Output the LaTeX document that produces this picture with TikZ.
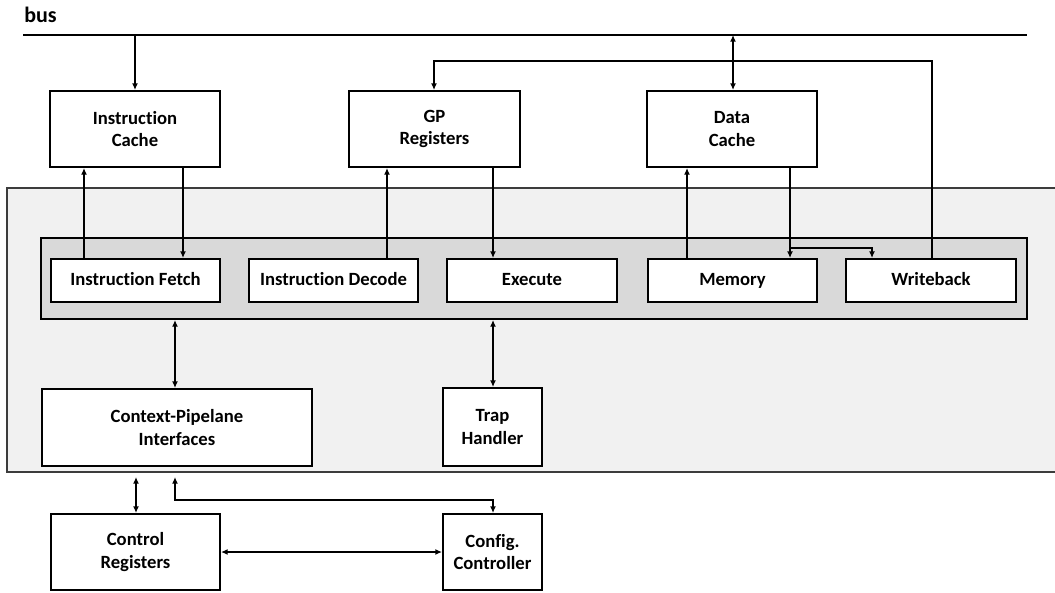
\documentclass[tikz,border=0pt]{standalone}
\usepackage{fontspec}
\setmainfont{Carlito}[Ligatures=NoCommon]
\usetikzlibrary{arrows.meta}
\begin{document}
\begin{tikzpicture}[x=0.75pt,y=-0.75pt,
  boxbase/.style={draw=black,line width=1.5pt,fill=white,inner sep=0pt,anchor=center,
    font=\bfseries\fontsize{14}{17}\selectfont},
  box/.style={boxbase,align=center},
  stage/.style={boxbase,text height=9.5pt,text depth=2.5pt,
    minimum height=32.25pt},
  arr/.style={line width=1.1pt,-{Latex[length=5pt,width=4.5pt]}},
  barr/.style={line width=1.1pt,{Latex[length=5pt,width=4.5pt]}-{Latex[length=5pt,width=4.5pt]}}]
\useasboundingbox (0,0) rectangle (1055,592);

% core area
\fill[fill={rgb,255:red,241;green,241;blue,241}] (7,188) rectangle (1055,472);
\draw[line width=1.2pt,draw={rgb,255:red,60;green,60;blue,60}] (1055,188) -- (7,188) -- (7,472) -- (1055,472);

% pipeline band
\node[draw=black,line width=1.5pt,fill={rgb,255:red,217;green,217;blue,217},inner sep=0pt,
  minimum width=739.5pt,minimum height=60.75pt] (pipe) at (534,278.5) {};

% system bus
\coordinate (busL) at (23,35);
\coordinate (busR) at (1027,35);
\draw[line width=2.2pt] (busL) -- (busR);
\node[anchor=base west,inner sep=0pt,font=\bfseries\fontsize{16.5}{19}\selectfont] (buslbl) at (24,23) {bus};

% memories and register file
\node[box,minimum width=127.5pt,minimum height=57pt] (ic) at (135,129) {Instruction\\Cache};
\node[box,minimum width=128.25pt,minimum height=57pt] (gp) at (434.5,129) {GP\\Registers};
\node[box,minimum width=127.5pt,minimum height=57pt] (dc) at (732,129) {Data\\Cache};

% pipeline stages
\node[stage,minimum width=126.75pt] (if) at (135.5,280.5) {Instruction Fetch};
\node[stage,minimum width=126.75pt] (id) at (333.5,280.5) {Instruction Decode};
\node[stage,minimum width=127.5pt] (ex) at (532,280.5) {Execute};
\node[stage,minimum width=126.75pt] (me) at (732.5,280.5) {Memory};
\node[stage,minimum width=127.5pt] (wb) at (931,280.5) {Writeback};

% lower blocks
\node[box,minimum width=202.5pt,minimum height=57.75pt] (cp) at (177,427.5) {Context-Pipelane\\Interfaces};
\node[box,minimum width=74.25pt,minimum height=58.5pt] (th) at (492.5,427) {Trap\\Handler};
\node[box,minimum width=126.75pt,minimum height=57pt] (cr) at (135.5,552) {Control\\Registers};
\node[box,minimum width=74.25pt,minimum height=57pt] (cc) at (492.5,552) {Config.\\Controller};

% bus connections
\draw[arr] (ic.north |- busL) -- (ic.north);
\draw[barr] (733,35 |- busL) -- (733,0 |- dc.north);

% caches and registers to stages
\draw[arr] (84,0 |- if.north) -- (84,0 |- ic.south);
\draw[arr] (183,0 |- ic.south) -- (183,0 |- if.north);
\draw[arr] (387,0 |- id.north) -- (387,0 |- gp.south);
\draw[arr] (493,0 |- gp.south) -- (493,0 |- ex.north);
\draw[arr] (687,0 |- me.north) -- (687,0 |- dc.south);
\draw[arr] (790,0 |- dc.south) -- (790,0 |- me.north);
\coordinate (split) at (790,248);
\draw[arr] (split) -| (872,0 |- wb.north);
\draw[arr] (932,0 |- wb.north) -- (932,61) -| (434,0 |- gp.north);

% pipeline to lower blocks
\draw[barr] (175,0 |- pipe.south) -- (175,0 |- cp.north);
\draw[barr] (493,0 |- pipe.south) -- (493,0 |- th.north);

% control path
\coordinate (crtop) at (136,477);
\draw[barr] (crtop) -- (136,0 |- cr.north);
\coordinate (cctop) at (175,477);
\draw[barr] (cctop) -- (175,500) -| (493,0 |- cc.north);
\draw[barr] (cr.east |- 0,552) -- (cc.west |- 0,552);
\end{tikzpicture}
\end{document}
